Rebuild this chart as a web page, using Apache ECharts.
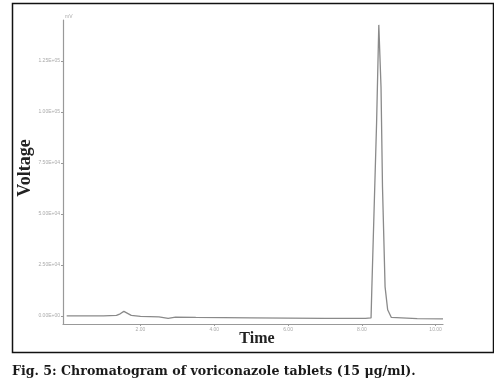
<!DOCTYPE html>
<html>
<head>
<meta charset="utf-8">
<script src="https://cdn.jsdelivr.net/npm/echarts@6/dist/echarts.min.js"></script>
<style>
html,body{margin:0;padding:0;background:#fff;}
#c{width:494px;height:388px;}
</style>
</head>
<body>
<div id="c"></div>
<script>
// Retention time (min)
const times = [0, 1.0, 1.35, 1.45, 1.55, 1.65, 1.75, 2.0, 2.5, 2.75, 2.95, 3.5, 5.0, 7.0, 8.1, 8.25, 8.27, 8.32, 8.40, 8.46, 8.50, 8.52, 8.56, 8.63, 8.70, 8.80, 9.5, 10.2];
// Detector response (mV)
const voltage = [0, 0, 2, 10, 22, 12, 2, -3, -5, -12, -6, -8, -10, -12, -12, -10, 128, 130, 946, 1426, 1426, 1122, 632, 142, 30, -8, -14, -15];
const yTicks = [0, 250, 500, 750, 1000, 1250];
const xTicks = [2, 4, 6, 8, 10];
const yTitle = 'Voltage';
const xTitle = 'Time';
const unitLabel = 'mV';
const caption = 'Fig. 5: Chromatogram of voriconazole tablets (15 \u03bcg/ml).';

const chart = echarts.init(document.getElementById('c'));
chart.setOption({
  animation: false,
  backgroundColor: '#fff',
  grid: {left: 63, right: 51, top: 20, bottom: 64},
  xAxis: {
    type: 'value', min: -0.1, max: 10.2,
    axisLine: {onZero: false, lineStyle: {color: '#999', width: 1.2}},
    axisTick: {show: true, customValues: xTicks, length: 2, lineStyle: {color: '#999'}},
    axisLabel: {customValues: xTicks, fontSize: 5, color: '#aaa', margin: 3,
      formatter: v => v.toFixed(2)},
    splitLine: {show: false}
  },
  yAxis: {
    type: 'value', min: -40, max: 1450,
    name: unitLabel, nameGap: 1,
    nameTextStyle: {fontSize: 5, color: '#aaa', align: 'left', padding: [0,0,0,2]},
    axisLine: {show: true, onZero: false, lineStyle: {color: '#999', width: 1.2}},
    axisTick: {show: true, customValues: yTicks, length: 2, lineStyle: {color: '#999'}},
    axisLabel: {customValues: yTicks, fontSize: 5, color: '#aaa', margin: 3,
      formatter: v => (v * 100).toExponential(2).toUpperCase().replace('E+', 'E+0')},
    splitLine: {show: false}
  },
  series: [{
    type: 'line',
    data: times.map((t, i) => [t, voltage[i]]),
    showSymbol: false,
    lineStyle: {color: '#8a8a8a', width: 1.3},
    clip: false
  }],
  graphic: [
    {type: 'rect', shape: {x: 12.5, y: 3.5, width: 481, height: 349},
      style: {fill: 'none', stroke: '#111', lineWidth: 1.5}, silent: true},
    {type: 'text', x: 25, y: 168, rotation: Math.PI / 2,
      style: {text: yTitle, font: 'bold 18px "Liberation Serif"', fill: '#222',
        textAlign: 'center', textVerticalAlign: 'middle'}},
    {type: 'text', x: 257, y: 339,
      style: {text: xTitle, font: 'bold 16px "Liberation Serif"', fill: '#222',
        textAlign: 'center', textVerticalAlign: 'middle'}},
    {type: 'text', x: 12, y: 372,
      style: {text: caption, font: 'bold 12.6px "DejaVu Serif"', fill: '#1a1a1a',
        textAlign: 'left', textVerticalAlign: 'middle'}}
  ]
});
</script>
</body>
</html>
